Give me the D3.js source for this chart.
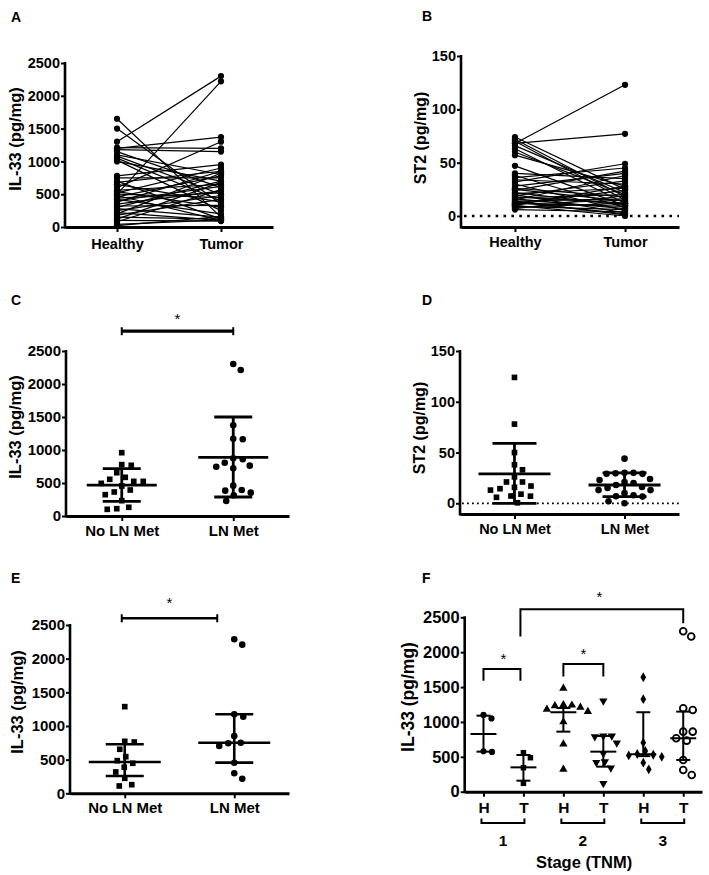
<!DOCTYPE html>
<html><head><meta charset="utf-8">
<script src="https://cdn.jsdelivr.net/npm/d3@7"></script>
<style>
body{margin:0;background:#fff}
svg{display:block}
text{font-family:"Liberation Sans",Arial,sans-serif;fill:#000}
</style>
</head><body>
<svg id="chart" width="709" height="875"></svg>
<script>
// ---------------- DATA ----------------
const pairedCats = ["Healthy", "Tumor"];
const il33Healthy = [1300, 500, 1650, 1500, 1200, 1210, 1180, 1150, 1100, 1080, 1050, 1020, 1000, 780, 750, 700, 680, 650, 600, 560, 540, 520, 500, 480, 460, 440, 420, 400, 380, 350, 320, 300, 280, 250, 220, 200, 180, 150, 120, 100, 80, 40, 20];
const il33Tumor   = [2300, 2220, 150, 350, 1370, 1200, 1150, 600, 800, 500, 400, 250, 700, 950, 750, 120, 850, 380, 1300, 650, 300, 900, 450, 100, 780, 520, 200, 620, 850, 550, 330, 700, 150, 480, 100, 820, 420, 120, 680, 90, 570, 110, 160];
const st2Healthy = [68, 68, 74, 72, 70, 66, 63, 60, 57, 47, 40, 38, 36, 34, 32, 30, 28, 26, 25, 24, 22, 21, 20, 19, 18, 17, 16, 15, 14, 13, 12, 12, 11, 10, 10, 9, 8, 7, 6, 14];
const st2Tumor   = [123, 77, 25, 18, 15, 22, 12, 20, 28, 10, 35, 8, 45, 30, 49, 5, 40, 18, 14, 42, 10, 26, 3, 33, 12, 20, 7, 38, 16, 2, 24, 9, 15, 0, 28, 6, 12, 19, 4, 1];

const lnCats = ["No LN Met", "LN Met"];
const il33NoLN_C = [959, 768, 778, 656, 586, 525, 525, 556, 455, 495, 394, 364, 323, 232, 132, 101, 111];
const il33LN_C   = [2303, 2212, 1374, 1171, 1162, 859, 874, 808, 763, 722, 747, 394, 354, 384, 460, 313, 227];
const statsC_center = [468, 889];
const statsC_low    = [222, 288];
const statsC_high   = [717, 1500];

const st2NoLN = [124, 78, 50, 38, 33, 26, 21, 17, 21, 13, 14.4, 15.7, 7.2, 5.9, 7, 9, 0.5];
const st2LN   = [44, 30, 30, 29.5, 29, 29, 24, 23, 21, 20, 18, 16, 15, 13, 13, 10, 8, 7, 6.6, 2, 0];
const statsD_center = [29, 18];
const statsD_low    = [0, 6.6];
const statsD_high   = [59, 30];

const il33NoLN_E = [1287, 762, 772, 654, 544, 485, 446, 387, 317, 223, 109, 128];
const il33LN_E   = [2288, 2208, 1174, 1138, 851, 752, 703, 743, 455, 297, 217];
const statsE_center = [465, 752];
const statsE_low    = [257, 455];
const statsE_high   = [728, 1174];

const stageCats   = ["H1", "T1", "H2", "T2", "H3", "T3"];
const stageLabels = ["H", "T", "H", "T", "H", "T"];
const stageGroups = ["1", "2", "3"];
const fH1 = [1100, 1050, 570, 580];
const fT1 = [559, 487, 344, 120];
const fH2 = [1483, 1244, 1240, 1230, 1210, 1180, 1150, 1000, 684, 321];
const fT2 = [1300, 800, 790, 800, 700, 550, 430, 420, 340, 120];
const fH3 = [1641, 1326, 703, 584, 540, 530, 520, 500, 416, 321];
const fT3 = [2301, 2224, 1196, 1172, 861, 861, 766, 732, 455, 311, 240];
const statsF_center = [827, 349, 1139, 574, 537, 766];
const statsF_low    = [574, 158, 861, 359, 510, 455];
const statsF_high   = [1090, 526, 1200, 799, 1139, 1148];

const il33Ticks = [0, 500, 1000, 1500, 2000, 2500];
const st2Ticks  = [0, 50, 100, 150];

// ---------------- HELPERS ----------------
const FONT = '"Liberation Sans", Arial, sans-serif';
const svg = d3.select("#chart");

function axes(g, x, y, o) {
  const ya = g.append("g").attr("transform", `translate(${o.yAxisX},0)`)
    .call(d3.axisLeft(y).tickValues(o.yTicks).tickSize(4).tickPadding(1).tickFormat(d3.format("d")));
  ya.select(".domain").remove();
  ya.attr("font-family", FONT).attr("font-size", o.tickFs).attr("font-weight", "bold");
  ya.selectAll(".tick line").attr("stroke", "#000").attr("stroke-width", 2);
  ya.selectAll(".tick text").attr("fill", "#000");
  g.append("line").attr("x1", o.yAxisX).attr("x2", o.yAxisX)
    .attr("y1", y(o.yTicks[o.yTicks.length - 1]) - 1).attr("y2", o.xAxisY + 1.5)
    .attr("stroke", "#000").attr("stroke-width", 2.6);
  const xa = g.append("g").attr("transform", `translate(0,${o.xAxisY})`)
    .call(d3.axisBottom(x).tickSize(5).tickSizeOuter(0).tickPadding(o.xPad)
      .tickFormat(o.xFormat || (d => d)));
  xa.select(".domain").attr("stroke", "#000").attr("stroke-width", 3);
  xa.attr("font-family", FONT).attr("font-size", o.xFs || o.tickFs).attr("font-weight", "bold");
  xa.selectAll(".tick line").attr("stroke", "#000").attr("stroke-width", 2);
  xa.selectAll(".tick text").attr("fill", "#000");
  g.append("text").attr("transform", `translate(${o.labelX},${o.labelY}) rotate(-90)`)
    .attr("text-anchor", "middle").attr("dominant-baseline", "central")
    .attr("font-weight", "bold").attr("font-size", o.labelFs).text(o.label);
  g.append("text").attr("x", o.letterX).attr("y", o.letterY)
    .attr("font-weight", "bold").attr("font-size", 14).text(o.letter);
}

function dodge(vals, y, d) {
  const idx = d3.range(vals.length).sort((a, b) => vals[b] - vals[a]);
  const placed = [], off = new Array(vals.length);
  for (const i of idx) {
    const py = y(vals[i]);
    let best = 0;
    for (let k = 0; k < 400; k++) {
      const c = k === 0 ? 0 : (k % 2 ? 1 : -1) * Math.ceil(k / 2) * 0.5;
      if (placed.every(p => Math.hypot(p[0] - c, p[1] - py) >= d)) { best = c; break; }
    }
    placed.push([best, py]); off[i] = best;
  }
  return off;
}

function scatter(g, vals, cx, y, sym, size, d, filled) {
  const off = dodge(vals, y, d);
  g.append("g").selectAll("path").data(vals).join("path")
    .attr("transform", (v, i) => `translate(${cx + off[i]},${y(v)})`)
    .attr("d", d3.symbol().type(sym).size(size))
    .attr("fill", filled === false ? "#fff" : "#000")
    .attr("stroke", "#000").attr("stroke-width", filled === false ? 1.8 : 0);
}

function bars(g, x, y, cats, center, low, high, wMean, wCap, sw) {
  cats.forEach((c, i) => {
    const cx = x(c);
    const L = (x1, y1, x2, y2) => g.append("line").attr("x1", x1).attr("y1", y1).attr("x2", x2).attr("y2", y2)
      .attr("stroke", "#000").attr("stroke-width", sw);
    L(cx, y(low[i]), cx, y(high[i]));
    L(cx - wMean, y(center[i]), cx + wMean, y(center[i]));
    L(cx - wCap, y(low[i]), cx + wCap, y(low[i]));
    L(cx - wCap, y(high[i]), cx + wCap, y(high[i]));
  });
}

function sigBar(g, x1, x2, yy, sw, starY) {
  g.append("line").attr("x1", x1).attr("x2", x2).attr("y1", yy).attr("y2", yy).attr("stroke", "#000").attr("stroke-width", sw);
  [x1, x2].forEach(xx => g.append("line").attr("x1", xx).attr("x2", xx).attr("y1", yy - 4).attr("y2", yy + 4)
    .attr("stroke", "#000").attr("stroke-width", 2));
  g.append("text").attr("x", (x1 + x2) / 2).attr("y", starY).attr("text-anchor", "middle")
    .attr("font-size", 15).text("*");
}

function bracket(g, x1, x2, yy, y1end, y2end, starX, starY) {
  g.append("path").attr("d", `M${x1},${y1end}V${yy}H${x2}V${y2end}`)
    .attr("fill", "none").attr("stroke", "#000").attr("stroke-width", 2);
  g.append("text").attr("x", starX).attr("y", starY).attr("text-anchor", "middle")
    .attr("font-size", 15).text("*");
}

// ---------------- PANEL A ----------------
{
  const g = svg.append("g");
  const x = d3.scalePoint().domain(pairedCats).range([65, 273]).padding(0.5);
  const y = d3.scaleLinear().domain([0, 2500]).range([227, 63]);
  axes(g, x, y, { yAxisX: 65, xAxisY: 227, yTicks: il33Ticks, tickFs: 14.5, xPad: 7,
    label: "IL-33 (pg/mg)", labelX: 15, labelY: 139, labelFs: 16.5, letter: "A", letterX: 11, letterY: 22 });
  const lg = g.append("g");
  il33Healthy.forEach((h, i) => {
    lg.append("line").attr("x1", x("Healthy")).attr("y1", y(h)).attr("x2", x("Tumor")).attr("y2", y(il33Tumor[i]))
      .attr("stroke", "#000").attr("stroke-width", 1.2);
  });
  g.append("g").selectAll("circle").data(il33Healthy).join("circle")
    .attr("cx", x("Healthy")).attr("cy", d => y(d)).attr("r", 3.1).attr("fill", "#000");
  g.append("g").selectAll("circle").data(il33Tumor).join("circle")
    .attr("cx", x("Tumor")).attr("cy", d => y(d)).attr("r", 3.1).attr("fill", "#000");
}

// ---------------- PANEL B ----------------
{
  const g = svg.append("g");
  const x = d3.scalePoint().domain(pairedCats).range([461, 679]).padding(0.49);
  const y = d3.scaleLinear().domain([0, 150]).range([216, 56]);
  g.append("line").attr("x1", 464).attr("x2", 679).attr("y1", y(0)).attr("y2", y(0))
    .attr("stroke", "#000").attr("stroke-width", 2.6).attr("stroke-dasharray", "2.6 5.3");
  axes(g, x, y, { yAxisX: 461, xAxisY: 227, yTicks: st2Ticks, tickFs: 14.5, xPad: 5,
    label: "ST2  (pg/mg)", labelX: 420, labelY: 138, labelFs: 16, letter: "B", letterX: 422, letterY: 21 });
  st2Healthy.forEach((h, i) => {
    g.append("line").attr("x1", x("Healthy")).attr("y1", y(h)).attr("x2", x("Tumor")).attr("y2", y(st2Tumor[i]))
      .attr("stroke", "#000").attr("stroke-width", 1.2);
  });
  g.append("g").selectAll("circle").data(st2Healthy).join("circle")
    .attr("cx", x("Healthy")).attr("cy", d => y(d)).attr("r", 3.1).attr("fill", "#000");
  g.append("g").selectAll("circle").data(st2Tumor).join("circle")
    .attr("cx", x("Tumor")).attr("cy", d => y(d)).attr("r", 3.1).attr("fill", "#000");
}

// ---------------- PANEL C ----------------
{
  const g = svg.append("g");
  const x = d3.scalePoint().domain(lnCats).range([66, 289]).padding(0.5);
  const y = d3.scaleLinear().domain([0, 2500]).range([516, 351]);
  axes(g, x, y, { yAxisX: 66, xAxisY: 516, yTicks: il33Ticks, tickFs: 15, xPad: 4,
    label: "IL-33 (pg/mg)", labelX: 15, labelY: 427, labelFs: 16.5, letter: "C", letterX: 11, letterY: 305 });
  scatter(g, il33NoLN_C, x(lnCats[0]), y, d3.symbolSquare, 32, 9.3);
  scatter(g, il33LN_C, x(lnCats[1]), y, d3.symbolCircle, 34, 9.3);
  bars(g, x, y, lnCats, statsC_center, statsC_low, statsC_high, 35, 19, 2.8);
  sigBar(g, x(lnCats[0]), x(lnCats[1]), y(2800), 3.2, y(2800) - 7);
}

// ---------------- PANEL D ----------------
{
  const g = svg.append("g");
  const x = d3.scalePoint().domain(lnCats).range([460, 679]).padding(0.495);
  const y = d3.scaleLinear().domain([0, 150]).range([503.3, 351]);
  g.append("line").attr("x1", 462).attr("x2", 679).attr("y1", y(0)).attr("y2", y(0))
    .attr("stroke", "#000").attr("stroke-width", 1.8).attr("stroke-dasharray", "1.8 3.2");
  axes(g, x, y, { yAxisX: 460, xAxisY: 514, yTicks: st2Ticks, tickFs: 14.5, xPad: 5,
    label: "ST2  (pg/mg)", labelX: 419.5, labelY: 428, labelFs: 16, letter: "D", letterX: 422, letterY: 305 });
  scatter(g, st2NoLN, x(lnCats[0]), y, d3.symbolSquare, 32, 9.3);
  scatter(g, st2LN, x(lnCats[1]), y, d3.symbolCircle, 34, 9.0);
  bars(g, x, y, lnCats, statsD_center, statsD_low, statsD_high, 36, 22, 2.8);
}

// ---------------- PANEL E ----------------
{
  const g = svg.append("g");
  const x = d3.scalePoint().domain(lnCats).range([70, 289]).padding(0.5);
  const y = d3.scaleLinear().domain([0, 2500]).range([793.3, 625]);
  axes(g, x, y, { yAxisX: 70, xAxisY: 793.3, yTicks: il33Ticks, tickFs: 15, xPad: 4.5,
    label: "IL-33 (pg/mg)", labelX: 17, labelY: 702, labelFs: 16.5, letter: "E", letterX: 11, letterY: 583 });
  scatter(g, il33NoLN_E, x(lnCats[0]), y, d3.symbolSquare, 32, 9.3);
  scatter(g, il33LN_E, x(lnCats[1]), y, d3.symbolCircle, 34, 9.3);
  bars(g, x, y, lnCats, statsE_center, statsE_low, statsE_high, 36, 19, 2.6);
  sigBar(g, x(lnCats[0]) - 3, x(lnCats[1]) - 17, y(2600), 2.4, y(2600) - 10);
}

// ---------------- PANEL F ----------------
{
  const g = svg.append("g");
  const x = d3.scalePoint().domain(stageCats).range([464.7, 702]).padding(0.47);
  const y = d3.scaleLinear().domain([0, 2500]).range([791.7, 617.3]);
  axes(g, x, y, { yAxisX: 464.7, xAxisY: 791.7, yTicks: il33Ticks, tickFs: 16.5, xFs: 15.5, xPad: 5,
    xFormat: (d, i) => stageLabels[i],
    label: "IL-33 (pg/mg)", labelX: 407.5, labelY: 697, labelFs: 17.5, letter: "F", letterX: 422, letterY: 583 });
  const groups = [fH1, fT1, fH2, fT2, fH3, fT3];
  const syms = [d3.symbolCircle, d3.symbolSquare, d3.symbolTriangle, d3.symbolTriangle, d3.symbolDiamond, d3.symbolCircle];
  groups.forEach((vals, i) => {
    const cx = x(stageCats[i]);
    if (i === 3) {
      const off = dodge(vals, y, 8.5);
      g.append("g").selectAll("path").data(vals).join("path")
        .attr("transform", (v, j) => `translate(${cx + off[j]},${y(v)}) rotate(180)`)
        .attr("d", d3.symbol().type(d3.symbolTriangle).size(30)).attr("fill", "#000");
    } else if (i === 5) {
      scatter(g, vals, cx, y, d3.symbolCircle, 36, 9.5, false);
    } else {
      scatter(g, vals, cx, y, syms[i], i === 4 ? 28 : 30, 8.5);
    }
  });
  bars(g, x, y, stageCats, statsF_center, statsF_low, statsF_high, 13, 7, 2);
  // significance brackets
  bracket(g, x("H1"), x("T1") - 3, y(1760), y(1590), y(1590), (x("H1") + x("T1")) / 2, y(1760) - 5);
  bracket(g, x("H2"), x("T2"), y(1830), y(1650), y(1650), (x("H2") + x("T2")) / 2, y(1830) - 5);
  bracket(g, x("T1") - 3, x("T3"), y(2617), y(2224), y(2416), (x("T1") + x("T3")) / 2 - 4, y(2617) - 7);
  // stage brackets under axis
  stageGroups.forEach((s, k) => {
    const x1 = x(stageCats[2 * k]) - 2, x2 = x(stageCats[2 * k + 1]) + 1;
    g.append("path").attr("d", `M${x1},818.5V823H${x2}V818.5`).attr("fill", "none")
      .attr("stroke", "#000").attr("stroke-width", 2);
    g.append("text").attr("x", (x1 + x2) / 2).attr("y", 845.5).attr("text-anchor", "middle")
      .attr("font-weight", "bold").attr("font-size", 15.5).text(s);
  });
  g.append("text").attr("x", 584).attr("y", 867.5).attr("text-anchor", "middle")
    .attr("font-weight", "bold").attr("font-size", 16.5).text("Stage (TNM)");
}
</script>
</body></html>
